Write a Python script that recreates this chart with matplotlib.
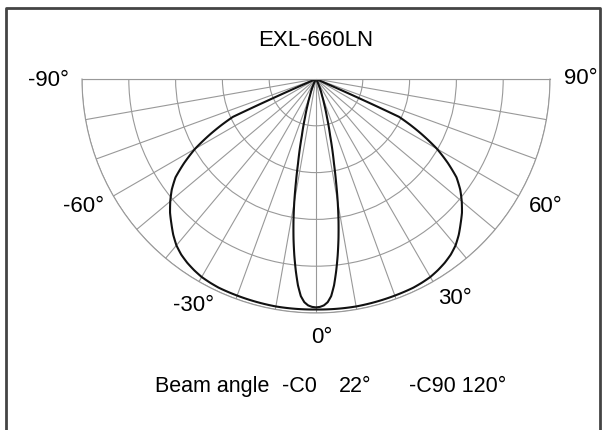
import numpy as np
import matplotlib
matplotlib.use('Agg')
import matplotlib.pyplot as plt
from matplotlib.lines import Line2D

plt.rcParams['font.family'] = ['Liberation Sans', 'DejaVu Sans']

# Relative intensity (symmetric about 0 deg)
c0_angles = [0, 1, 2, 3, 4, 5, 6, 7, 8, 9, 10, 11, 12, 14, 16, 18, 20, 25, 30, 90]
c0_values = [0.976, 0.974, 0.968, 0.955, 0.93, 0.885, 0.825, 0.76, 0.69, 0.615, 0.535, 0.45,
             0.37, 0.25, 0.17, 0.115, 0.075, 0.025, 0.0, 0.0]

c90_angles = [0, 5, 10, 15, 20, 25, 27.5, 30, 32.5, 35, 37.5, 40, 42.5, 45, 47.5, 50, 52.5,
              55, 57.5, 60, 62.5, 64, 65.5, 66.5, 90]
c90_values = [0.985, 0.986, 0.987, 0.986, 0.985, 0.984, 0.981, 0.977, 0.969, 0.959, 0.946,
              0.928, 0.903, 0.874, 0.846, 0.813, 0.777, 0.733, 0.668, 0.597, 0.507, 0.45,
              0.39, 0.0, 0.0]

title = 'EXL-660LN'
angle_labels = ['-90°', '-60°', '-30°', '0°', '30°', '60°', '90°']
beam_text = ['Beam angle', '-C0', '22°', '-C90 120°']


def mirror(angles, values):
    a = np.array(angles, dtype=float)
    v = np.array(values, dtype=float)
    full_a = np.concatenate([-a[::-1], a[1:]])
    full_v = np.concatenate([v[::-1], v[1:]])
    return np.deg2rad(full_a), full_v


W, H = 606, 431
fig = plt.figure(figsize=(W / 100, H / 100), dpi=100)

# polar half circle: centre at (316, 80) px, radius 234 px
# (the half wedge sits in the middle of a square box of side 2R)
cx, cy, R = 316, 80, 234
box_top = cy - R / 2
ax = fig.add_axes([(cx - R) / W, (H - box_top - 2 * R) / H, 2 * R / W, 2 * R / H],
                  projection='polar')
ax.set_theta_zero_location('S')
ax.set_thetamin(-90)
ax.set_thetamax(90)
ax.set_rlim(0, 1.0)
ax.set_thetagrids(range(-90, 91, 10), labels=[])
ax.set_rgrids([0.2, 0.4, 0.6, 0.8, 1.0], labels=[])
ax.grid(True, color='#999999', linewidth=0.8)
for s in ax.spines.values():
    s.set_color('#999999')
    s.set_linewidth(0.8)
ax.tick_params(length=0)

for angles, values in [(c0_angles, c0_values), (c90_angles, c90_values)]:
    th, r = mirror(angles, values)
    line, = ax.plot(th, r, color='#111111', linewidth=1.5)
    # draw segments along the polar grid instead of straight chords
    line.get_path()._interpolation_steps = 12

# texts
def px(x, y):
    return x / W, 1 - y / H

fig.text(*px(316, 40), title, ha='center', va='center', fontsize=16)
label_pos = [(49, 81), (84, 207), (194, 306), (322, 338), (455, 299), (546, 207), (581, 79)]
for lab, (x, y) in zip(angle_labels, label_pos):
    fig.text(*px(x, y), lab, ha='center', va='center', fontsize=16)

beam_x = [155, 282, 339, 409]
for t, x in zip(beam_text, beam_x):
    fig.text(*px(x, 387), t, ha='left', va='center', fontsize=15.5)

# frame (left, top, right)
frame = Line2D([5.5 / W, 5.5 / W, 600 / W, 600 / W], [0, 1 - 8.5 / H, 1 - 8.5 / H, 0],
               transform=fig.transFigure, color='#444444', linewidth=2)
fig.add_artist(frame)

fig.savefig('out.png', dpi=100)
